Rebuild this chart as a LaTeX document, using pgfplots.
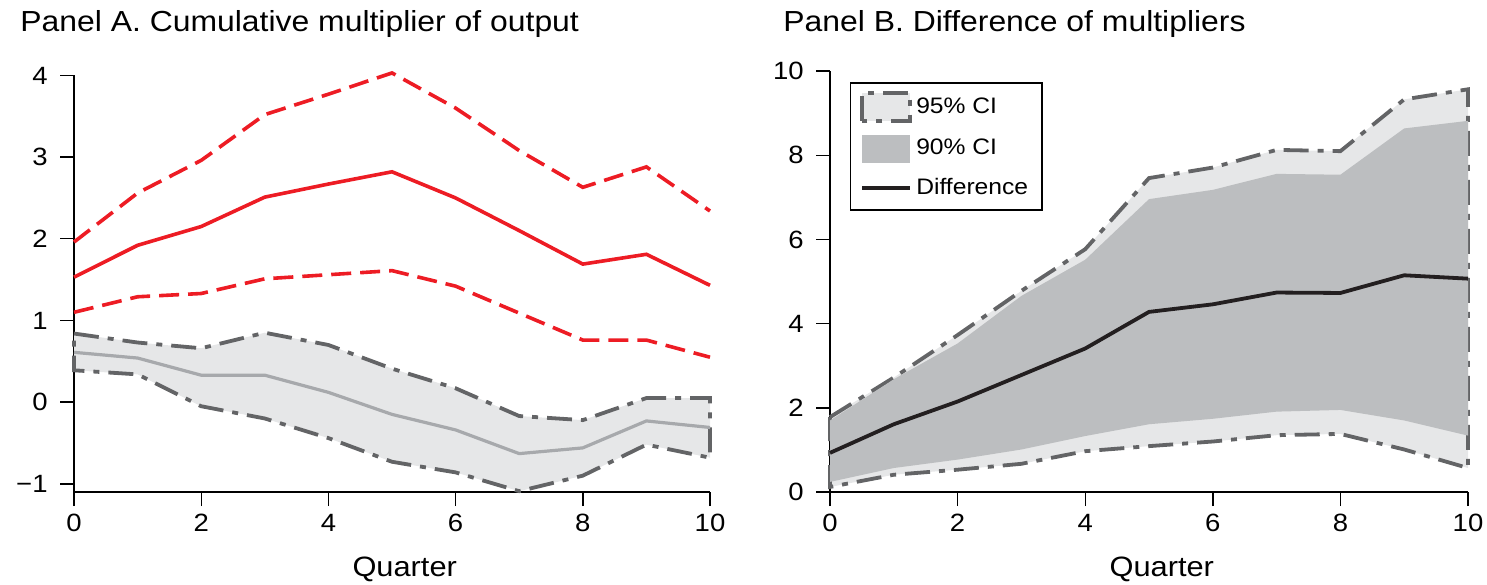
\documentclass[border=0pt]{standalone}
\usepackage{fontspec}
\setmainfont{Liberation Sans}[FakeStretch=1.1]
\usepackage{pgfplots}
\pgfplotsset{compat=1.18}
\definecolor{cred}{HTML}{ED1C24}
\definecolor{afill}{HTML}{E6E7E8}
\definecolor{aline}{HTML}{A7A9AC}
\definecolor{dd}{HTML}{636466}
\definecolor{bfillA}{HTML}{E6E7E8}
\definecolor{bfillB}{HTML}{BCBEC0}
\definecolor{cblack}{HTML}{231F20}
\pgfplotsset{
  myax/.style={
    scale only axis, xmin=0, xmax=10, clip=false,
    axis lines*=left, tick align=outside, major tick length=7pt,
    xtick={0,2,...,10}, minor tick num=0,
    axis line style={black, line width=0.7pt},
    tick style={black, line width=0.7pt},
    ticklabel style={font=\fontsize{12.5}{14}\selectfont},
    xticklabel style={inner ysep=4pt},
    yticklabel style={inner xsep=6pt},
    /pgf/number format/assume math mode=true,
    xlabel={Quarter},
    xlabel style={font=\fontsize{14}{16}\selectfont, at={(axis description cs:0.52,0)}, anchor=base, yshift=-42pt},
  },
  ddash/.style={draw=dd, line width=1.9pt, dash pattern=on 12.5pt off 4.5pt on 3pt off 4.5pt},
  leg95/.style={legend image code/.code={\draw[fill=bfillA, draw=dd, line width=1.9pt, dash pattern=on 12.5pt off 4.5pt on 3pt off 4.5pt] (0pt,-7pt) rectangle (24pt,7pt);}},
  leg90/.style={legend image code/.code={\fill[bfillB] (0pt,-7pt) rectangle (24pt,7pt);}},
  legln/.style={legend image code/.code={\draw[cblack, line width=1.9pt] (0pt,0pt) -- (24pt,0pt);}},
}
\begin{document}
\begin{tikzpicture}
\path[use as bounding box] (0,0) rectangle (743.5pt,292pt);
\node[anchor=base west, inner sep=0pt, font=\fontsize{14.5}{17}\selectfont] at (10pt,276pt) {Panel A. Cumulative multiplier of output};
\node[anchor=base west, inner sep=0pt, font=\fontsize{14.5}{17}\selectfont] at (391.5pt,276pt) {Panel B. Difference of multipliers};

\begin{axis}[myax, at={(37pt,46pt)}, anchor=south west, width=318pt, height=208.3pt,
  ymin=-1.1, ymax=4, ytick={-1,0,1,2,3,4}, yticklabels={−1,0,1,2,3,4}]
\addplot[fill=afill, ddash] coordinates {
 (0,0.84) (1,0.73) (2,0.66) (3,0.85) (4,0.70) (5,0.41) (6,0.17) (7,-0.17) (8,-0.22) (9,0.05) (10,0.05)
 (10,-0.68) (9,-0.52) (8,-0.90) (7,-1.09) (6,-0.86) (5,-0.73) (4,-0.44) (3,-0.20) (2,-0.05) (1,0.34) (0,0.39)} -- cycle;
\addplot[aline, line width=1.6pt] coordinates {
 (0,0.61) (1,0.54) (2,0.33) (3,0.33) (4,0.12) (5,-0.15) (6,-0.34) (7,-0.63) (8,-0.56) (9,-0.23) (10,-0.31)};
\addplot[cred, line width=1.8pt, dash pattern=on 10pt off 4.5pt] coordinates {
 (0,1.96) (1,2.56) (2,2.96) (3,3.52) (4,3.77) (5,4.03) (6,3.60) (7,3.08) (8,2.63) (9,2.88) (10,2.34)};
\addplot[cred, line width=1.8pt, dash pattern=on 10pt off 4.5pt] coordinates {
 (0,1.10) (1,1.29) (2,1.33) (3,1.51) (4,1.56) (5,1.61) (6,1.42) (7,1.09) (8,0.76) (9,0.76) (10,0.55)};
\addplot[cred, line width=1.8pt] coordinates {
 (0,1.53) (1,1.92) (2,2.15) (3,2.51) (4,2.67) (5,2.82) (6,2.50) (7,2.10) (8,1.69) (9,1.81) (10,1.43)};
\end{axis}

\begin{axis}[myax, at={(415pt,46pt)}, anchor=south west, width=319pt, height=210.4pt,
  ymin=0, ymax=10, ytick={0,2,...,10},
  legend style={at={(0.031,0.974)}, anchor=north west, draw=black, line width=0.7pt,
    font=\fontsize{11.2}{13}\selectfont, inner xsep=5pt, inner ysep=4pt, row sep=6pt,
    /tikz/every even column/.append style={column sep=2pt}},
  legend cell align=left]
\addplot[fill=bfillA, ddash, leg95] coordinates {
 (0,1.78) (1,2.72) (2,3.73) (3,4.78) (4,5.77) (5,7.46) (6,7.71) (7,8.13) (8,8.10) (9,9.33) (10,9.57)
 (10,0.57) (9,1.01) (8,1.38) (7,1.35) (6,1.20) (5,1.09) (4,0.97) (3,0.67) (2,0.53) (1,0.41) (0,0.12)} -- cycle;
\addlegendentry{95\% CI}
\addplot[fill=bfillB, draw=none, leg90] coordinates {
 (0,1.70) (1,2.68) (2,3.53) (3,4.66) (4,5.52) (5,6.96) (6,7.18) (7,7.56) (8,7.54) (9,8.64) (10,8.82)
 (10,1.34) (9,1.70) (8,1.95) (7,1.91) (6,1.74) (5,1.61) (4,1.33) (3,1.01) (2,0.77) (1,0.57) (0,0.24)} -- cycle;
\addlegendentry{90\% CI}
\addplot[cblack, line width=1.9pt, legln] coordinates {
 (0,0.93) (1,1.61) (2,2.15) (3,2.78) (4,3.41) (5,4.28) (6,4.46) (7,4.74) (8,4.73) (9,5.15) (10,5.07)};
\addlegendentry{Difference}
\end{axis}
\end{tikzpicture}
\end{document}
